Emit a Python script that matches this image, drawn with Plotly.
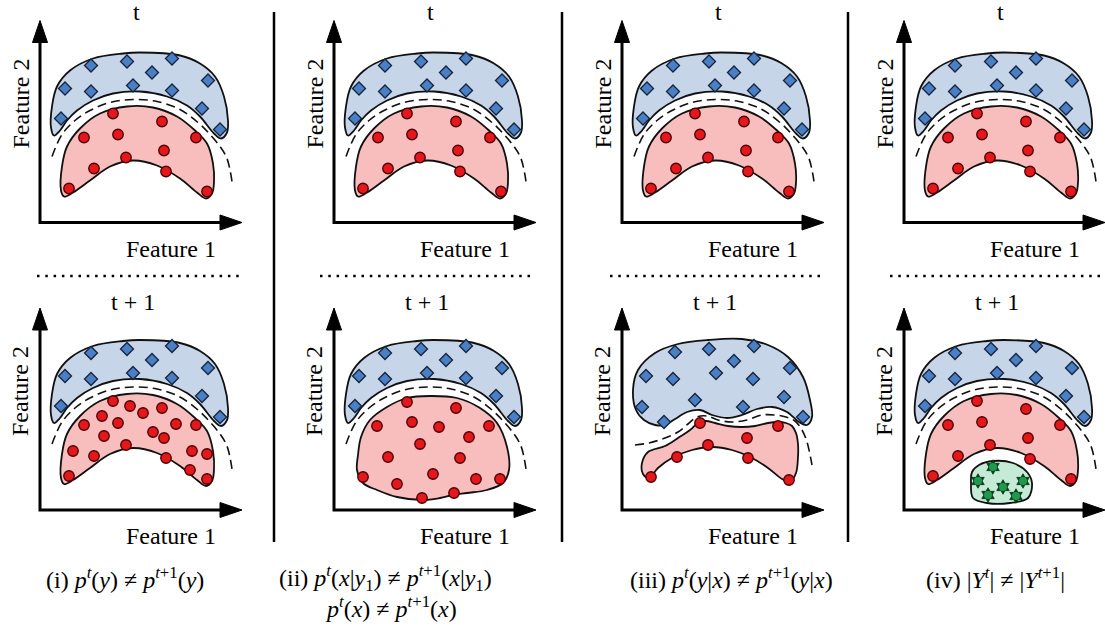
import plotly.graph_objects as go

W, H = 1105, 628

# ---------------- data (panel-local units, origin at the axis corner, y up) ----------------
# class-1 region (blue) at time t
BLUE_BASE_U = [100, 140, 160, 175, 184, 188, 187, 181, 174, 160, 147, 127, 100, 73, 53, 37, 27, 20, 14, 11, 12, 17, 30, 53, 83, 100]
BLUE_BASE_V = [170, 167, 159, 146, 126, 102, 90, 84, 89, 106, 117, 126, 131, 129, 122, 112, 102, 92, 87, 95, 116, 136, 152, 164, 169, 170]
# class-2 region (red) at time t
RED_BASE_U = [87, 113, 137, 155, 167, 173, 174, 172, 166, 157, 140, 117, 93, 70, 50, 33, 24, 21, 22, 27, 40, 60, 87]
RED_BASE_V = [116, 115, 106, 92, 79, 59, 40, 29, 24, 30, 44, 57, 62, 56, 42, 30, 26, 32, 56, 76, 94, 109, 116]
# decision boundary (dashed)
DASH_BASE_U = [12, 22, 35, 50, 70, 93, 117, 140, 158, 170, 180, 187, 192]
DASH_BASE_V = [66, 88, 102, 112, 120, 123, 121, 113, 100, 88, 76, 64, 41]
# samples
DIAMOND_BASE_U = [25, 51, 87, 132, 112, 168, 51, 93, 132, 162, 21, 180]
DIAMOND_BASE_V = [134, 157, 161, 164, 150, 142, 131, 137, 132, 114, 104, 93]
DOT_BASE_U = [73, 122, 44, 78, 156, 124, 86, 54, 126, 29, 167]
DOT_BASE_V = [109, 101, 85, 88, 85, 72, 65, 54, 51, 34, 31]

# (i) more red samples at t+1
DOT_I_U = [73, 90, 122, 103, 62, 44, 78, 136, 156, 113, 64, 124, 33, 54, 86, 152, 167, 126, 150, 29, 167]
DOT_I_V = [109, 104, 102, 97, 94, 85, 87, 86, 85, 78, 74, 72, 59, 54, 65, 59, 56, 52, 40, 34, 31]

# (ii) red region reshaped at t+1
RED_II_U = [96, 123, 146, 163, 173, 175, 169, 153, 133, 119, 106, 89, 63, 43, 29, 23, 24, 27, 36, 53, 73, 96]
RED_II_V = [114, 112, 102, 87, 63, 40, 27, 20, 17, 15, 12, 10, 13, 20, 27, 40, 55, 73, 90, 103, 112, 114]
DOT_II_U = [73, 122, 43, 78, 105, 155, 135, 86, 54, 126, 99, 29, 63, 142, 166, 88, 120]
DOT_II_V = [108, 102, 84, 88, 83, 84, 73, 66, 53, 52, 36, 33, 26, 31, 31, 12, 17]

# (iii) boundary shifted at t+1
BLUE_III_U = [86, 120, 146, 166, 181, 188, 190, 185, 177, 165, 150, 135, 120, 105, 90, 78, 65, 53, 43, 33, 22, 14, 11, 16, 33, 56, 86]
BLUE_III_V = [170, 171, 165, 153, 133, 110, 93, 85, 88, 98, 103, 101, 95, 92, 95, 100, 98, 91, 85, 85, 90, 100, 120, 140, 157, 166, 170]
RED_III_U = [90, 70, 50, 36, 27, 21, 20, 26, 43, 56, 68, 76, 84, 93, 106, 120, 133, 146, 156, 164, 170, 174, 176, 176, 174, 168, 160, 146, 130, 110, 90]
RED_III_V = [63, 60, 52, 42, 32, 36, 47, 58, 64, 72, 80, 87, 89, 87, 84, 83, 84, 87, 88, 87, 84, 77, 66, 53, 37, 28, 31, 42, 52, 60, 63]
DASH_III_U = [13, 27, 43, 56, 66, 75, 85, 96, 110, 125, 140, 153, 164, 173, 180, 185, 190]
DASH_III_V = [65, 67, 72, 78, 86, 93, 94, 90, 88, 90, 95, 95, 93, 89, 80, 68, 45]
DIAMOND_III_U = [53, 87, 132, 112, 168, 24, 51, 94, 131, 162, 20, 73, 121, 42, 181]
DIAMOND_III_V = [158, 161, 164, 149, 142, 134, 131, 137, 131, 113, 103, 110, 103, 88, 93]
DOT_III_U = [78, 156, 125, 86, 55, 126, 29, 167]
DOT_III_V = [87, 84, 72, 65, 53, 52, 33, 30]

# (iv) new class at t+1
GREEN_IV_U = [89, 109, 123, 128, 124, 106, 83, 69, 67, 68, 75, 89]
GREEN_IV_V = [49, 47, 38, 27, 12, 7, 7, 12, 27, 38, 45, 49]
STAR_IV_U = [89, 74, 99, 119, 84, 112]
STAR_IV_V = [43, 29, 23, 29, 15, 14]

TOP_LABEL = "t"
BOTTOM_LABEL = "t + 1"
X_LABEL = "Feature 1"
Y_LABEL = "Feature 2"
CAPTIONS = [
    "(i) <i>p</i><sup><i>t</i></sup>(<i>y</i>) ≠ <i>p</i><sup><i>t</i>+1</sup>(<i>y</i>)",
    "(ii) <i>p</i><sup><i>t</i></sup>(<i>x</i>|<i>y</i><sub>1</sub>) ≠ <i>p</i><sup><i>t</i>+1</sup>(<i>x</i>|<i>y</i><sub>1</sub>)"
    "<br>" + "&nbsp;" * 8 +
    "<i>p</i><sup><i>t</i></sup>(<i>x</i>) ≠ <i>p</i><sup><i>t</i>+1</sup>(<i>x</i>)",
    "(iii) <i>p</i><sup><i>t</i></sup>(<i>y</i>|<i>x</i>) ≠ <i>p</i><sup><i>t</i>+1</sup>(<i>y</i>|<i>x</i>)",
    "(iv) |<i>Y</i><sup><i>t</i></sup>| ≠ |<i>Y</i><sup><i>t</i>+1</sup>|",
]

# ---------------- layout / style ----------------
COL_X = [40, 334, 622, 904]      # pixel x of each panel's axis corner
ROW_Y = [222.5, 510]             # pixel y of each panel's axis corner
AXIS_LEN, HEAD_LEN, HEAD_HALF = 202, 22, 7.5
SEP_X = [274, 562, 848]
SEP_Y = (12, 542)
DOT_Y = 276
DOT_SPANS = [(37, 242), (320, 535), (610, 823), (890, 1105)]
CAP_POS = [(125, 578, "center"), (277, 559, "left"), (731, 578, "center"), (995, 578, "center")]
XLAB_OFF = (131, 26)       # offset of "Feature 1" from corner (px right, px down)
YLAB_OFF = (-20, -119)
TLAB_OFF = [(96, -210.5), (93, -208)]

FONT = "Liberation Serif, Times New Roman, Times, serif"
BLUE_FILL, BLUE_MARK = "#c7d5e9", "#4a7fc4"
RED_FILL, RED_MARK = "#f8bdbd", "#e3171c"
GREEN_FILL, GREEN_MARK = "#c5ead5", "#1f9a4c"

base = dict(blue=(BLUE_BASE_U, BLUE_BASE_V), red=(RED_BASE_U, RED_BASE_V),
            dash=(DASH_BASE_U, DASH_BASE_V), diam=(DIAMOND_BASE_U, DIAMOND_BASE_V),
            dots=(DOT_BASE_U, DOT_BASE_V), green=None, stars=None)
panels = []
for c in range(4):
    panels.append((0, c, dict(base)))
panels.append((1, 0, dict(base, dots=(DOT_I_U, DOT_I_V))))
panels.append((1, 1, dict(base, red=(RED_II_U, RED_II_V), dots=(DOT_II_U, DOT_II_V))))
panels.append((1, 2, dict(base, blue=(BLUE_III_U, BLUE_III_V), red=(RED_III_U, RED_III_V),
                          dash=(DASH_III_U, DASH_III_V), diam=(DIAMOND_III_U, DIAMOND_III_V),
                          dots=(DOT_III_U, DOT_III_V))))
panels.append((1, 3, dict(base, green=(GREEN_IV_U, GREEN_IV_V), stars=(STAR_IV_U, STAR_IV_V))))

fig = go.Figure()
annotations = []
shapes = []
layout_axes = {}


def paper(px, py):
    return px / W, 1 - py / H


for idx, (r, c, p) in enumerate(panels, start=1):
    cx, cy = COL_X[c], ROW_Y[r]
    xmax = min(206, W - cx)
    xa = "x" if idx == 1 else f"x{idx}"
    ya = "y" if idx == 1 else f"y{idx}"
    layout_axes["xaxis" if idx == 1 else f"xaxis{idx}"] = dict(
        domain=[(cx - 30) / W, (cx + xmax) / W], range=[-30, xmax], anchor=ya,
        visible=False, fixedrange=True)
    layout_axes["yaxis" if idx == 1 else f"yaxis{idx}"] = dict(
        domain=[(H - (cy + 35)) / H, (H - (cy - 215)) / H], range=[-35, 215], anchor=xa,
        visible=False, fixedrange=True)
    kw = dict(xaxis=xa, yaxis=ya, hoverinfo="skip", showlegend=False)

    def region(uv, fill):
        fig.add_trace(go.Scatter(x=uv[0], y=uv[1], mode="lines", fill="toself", fillcolor=fill,
                                 line=dict(color="#111111", width=1.8, shape="spline", smoothing=1.0), **kw))

    region(p["blue"], BLUE_FILL)
    region(p["red"], RED_FILL)
    if p["green"]:
        region(p["green"], GREEN_FILL)
    fig.add_trace(go.Scatter(x=p["dash"][0], y=p["dash"][1], mode="lines",
                             line=dict(color="#111111", width=1.6, dash="9px,5px", shape="spline"), **kw))
    fig.add_trace(go.Scatter(x=p["diam"][0], y=p["diam"][1], mode="markers",
                             marker=dict(symbol="diamond", size=10, color=BLUE_MARK,
                                         line=dict(color="#14233d", width=1.3)), **kw))
    fig.add_trace(go.Scatter(x=p["dots"][0], y=p["dots"][1], mode="markers",
                             marker=dict(symbol="circle", size=10.5, color=RED_MARK,
                                         line=dict(color="#4a0000", width=1.3)), **kw))
    if p["stars"]:
        fig.add_trace(go.Scatter(x=p["stars"][0], y=p["stars"][1], mode="markers",
                                 marker=dict(symbol="hexagram", size=11, color="#0b3d1c",
                                             line=dict(color="#0b3d1c", width=0.8)), **kw))
        fig.add_trace(go.Scatter(x=p["stars"][0], y=p["stars"][1], mode="markers",
                                 marker=dict(symbol="circle", size=8, color=GREEN_MARK,
                                             line=dict(width=0)), **kw))
    # axes with arrow heads
    end = AXIS_LEN - HEAD_LEN + 2
    fig.add_trace(go.Scatter(x=[0, 0, end], y=[end, 0, 0], mode="lines",
                             line=dict(color="black", width=3), **kw))
    fig.add_trace(go.Scatter(x=[-HEAD_HALF, HEAD_HALF, 0, -HEAD_HALF],
                             y=[AXIS_LEN - HEAD_LEN, AXIS_LEN - HEAD_LEN, AXIS_LEN, AXIS_LEN - HEAD_LEN],
                             mode="lines", fill="toself", fillcolor="black",
                             line=dict(color="black", width=1), **kw))
    xe = min(AXIS_LEN, xmax)
    fig.add_trace(go.Scatter(x=[xe - HEAD_LEN, xe - HEAD_LEN, xe, xe - HEAD_LEN],
                             y=[-HEAD_HALF, HEAD_HALF, 0, -HEAD_HALF],
                             mode="lines", fill="toself", fillcolor="black",
                             line=dict(color="black", width=1), **kw))
    # labels (paper coordinates)
    tf = dict(family=FONT, size=24, color="black")
    x0, y0 = paper(cx + XLAB_OFF[0], cy + XLAB_OFF[1])
    annotations.append(dict(x=x0, y=y0, xref="paper", yref="paper", text=X_LABEL, showarrow=False,
                            font=tf, xanchor="center", yanchor="middle"))
    x0, y0 = paper(cx + YLAB_OFF[0], cy + YLAB_OFF[1])
    annotations.append(dict(x=x0, y=y0, xref="paper", yref="paper", text=Y_LABEL, showarrow=False,
                            font=tf, textangle=-90, xanchor="center", yanchor="middle"))
    x0, y0 = paper(cx + TLAB_OFF[r][0], cy + TLAB_OFF[r][1])
    annotations.append(dict(x=x0, y=y0, xref="paper", yref="paper",
                            text=TOP_LABEL if r == 0 else BOTTOM_LABEL, showarrow=False,
                            font=tf, xanchor="center", yanchor="middle"))

for sx in SEP_X:
    shapes.append(dict(type="line", xref="paper", yref="paper", x0=sx / W, x1=sx / W,
                       y0=1 - SEP_Y[0] / H, y1=1 - SEP_Y[1] / H, line=dict(color="black", width=2.5)))
for a, b in DOT_SPANS:
    shapes.append(dict(type="line", xref="paper", yref="paper", x0=a / W, x1=b / W,
                       y0=1 - DOT_Y / H, y1=1 - DOT_Y / H,
                       line=dict(color="black", width=2.5, dash="2.5px,5.8px")))

cf = dict(family=FONT, size=24, color="black")
for (px, py, mode), txt in zip(CAP_POS, CAPTIONS):
    x0, y0 = paper(px, py)
    if mode == "left":
        annotations.append(dict(x=x0, y=y0, xref="paper", yref="paper", text=txt,
                                showarrow=False, font=cf, xanchor="left", yanchor="top",
                                align="left"))
    else:
        annotations.append(dict(x=x0, y=y0, xref="paper", yref="paper", text=txt,
                                showarrow=False, font=cf, xanchor="center", yanchor="middle"))

fig.update_layout(width=W, height=H, margin=dict(l=0, r=0, t=0, b=0),
                  paper_bgcolor="white", plot_bgcolor="rgba(0,0,0,0)",
                  font=dict(family=FONT, size=24, color="black"),
                  annotations=annotations, shapes=shapes, **layout_axes)
fig.write_html("out.html", config={"displayModeBar": False})
